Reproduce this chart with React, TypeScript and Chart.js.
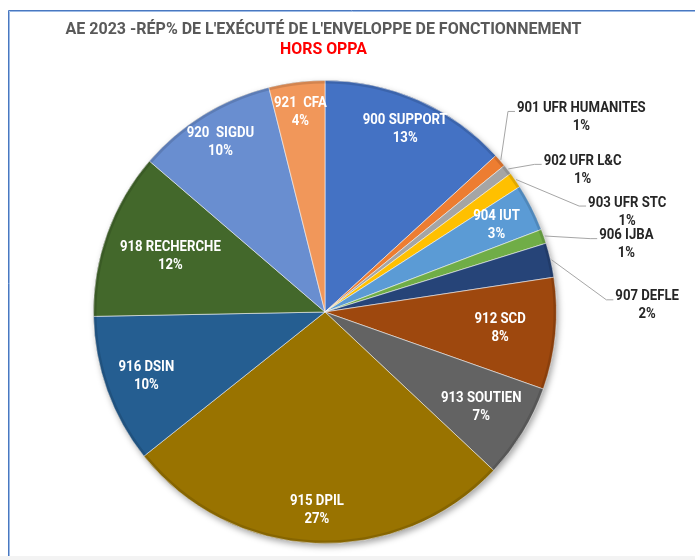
import { useEffect, useRef } from "react";
import { Chart, registerables } from "chart.js";

Chart.register(...registerables);

const TITLE = "AE 2023 -RÉP% DE L'EXÉCUTÉ DE L'ENVELOPPE DE FONCTIONNEMENT";
const SUBTITLE = "HORS OPPA";

const categories = [
  "900 SUPPORT",
  "901 UFR HUMANITES",
  "902 UFR L&C",
  "903 UFR STC",
  "904 IUT",
  "906 IJBA",
  "907 DEFLE",
  "912 SCD",
  "913 SOUTIEN",
  "915 DPIL",
  "916 DSIN",
  "918 RECHERCHE",
  "920  SIGDU",
  "921  CFA",
];

const shares = [13.2, 0.9, 0.7, 1.1, 3.3, 1.0, 2.4, 7.8, 6.6, 27.3, 10.4, 11.6, 9.8, 3.9];

const colors = [
  "#4472C4",
  "#ED7D31",
  "#A5A5A5",
  "#FFC000",
  "#5B9BD5",
  "#70AD47",
  "#264478",
  "#9E480E",
  "#636363",
  "#997300",
  "#255E91",
  "#43682B",
  "#698ED0",
  "#F1975A",
];

// label layout: radial factor for labels inside slices (null => outside label)
const insideRadius: (number | null)[] = [0.86, null, null, null, 0.83, null, null, 0.76, 0.79, 0.86, 0.82, 0.71, 0.86, 0.87];
// outside labels: [angle in degrees clockwise from top, radial factor]
const outsidePolar: Record<number, [number, number]> = {
  1: [52.8, 1.39],
  2: [61.2, 1.27],
  3: [71.7, 1.375],
  5: [77.4, 1.334],
  6: [88.9, 1.392],
};

const LABEL_FONT = "bold 14px Roboto, 'DejaVu Sans', sans-serif";
const TITLE_FONT = "bold 16px Roboto, 'DejaVu Sans', sans-serif";

export default function App() {
  const ref = useRef<HTMLCanvasElement>(null);

  useEffect(() => {
    const canvas = ref.current!;
    const total = shares.reduce((a, b) => a + b, 0);

    const framePlugin = {
      id: "frame",
      beforeDraw(chart: any) {
        const ctx = chart.ctx as CanvasRenderingContext2D;
        ctx.save();
        ctx.fillStyle = "#ffffff";
        ctx.fillRect(0, 0, chart.width, chart.height);
        ctx.fillStyle = "#f3f3f3";
        ctx.fillRect(0, 556, chart.width, chart.height - 556);
        ctx.lineWidth = 1;
        ctx.strokeStyle = "#4a78c0";
        ctx.beginPath();
        ctx.moveTo(8.5, 556);
        ctx.lineTo(8.5, 10.5);
        ctx.lineTo(chart.width, 10.5);
        ctx.stroke();
        ctx.strokeStyle = "#9dbbe6";
        ctx.beginPath();
        ctx.moveTo(9.5, 556);
        ctx.lineTo(9.5, 11.5);
        ctx.lineTo(chart.width, 11.5);
        ctx.stroke();

        // titles
        ctx.textAlign = "center";
        ctx.textBaseline = "middle";
        ctx.font = TITLE_FONT;
        ctx.fillStyle = "#595959";
        ctx.fillText(TITLE, 323.5, 29.5, 529);
        ctx.fillStyle = "#FF0000";
        ctx.fillText(SUBTITLE, 323.5, 49.5, 87);
        ctx.restore();
      },
      beforeDatasetsDraw(chart: any) {
        const meta = chart.getDatasetMeta(0);
        const arc = meta.data[0];
        if (!arc) return;
        const { x, y, outerRadius } = arc.getProps(["x", "y", "outerRadius"], true);
        const ctx = chart.ctx as CanvasRenderingContext2D;
        ctx.save();
        ctx.shadowColor = "rgba(0,0,0,0.35)";
        ctx.shadowBlur = 6;
        ctx.shadowOffsetX = 2;
        ctx.shadowOffsetY = 3;
        ctx.beginPath();
        ctx.arc(x, y, outerRadius, 0, Math.PI * 2);
        ctx.fillStyle = "#888";
        ctx.fill();
        ctx.restore();
      },
      afterDatasetsDraw(chart: any) {
        const ctx = chart.ctx as CanvasRenderingContext2D;
        const meta = chart.getDatasetMeta(0);
        ctx.save();
        // subtle darker rim
        const a0 = meta.data[0].getProps(["x", "y", "outerRadius"], true);
        ctx.strokeStyle = "rgba(0,0,0,0.12)";
        ctx.lineWidth = 3;
        ctx.beginPath();
        ctx.arc(a0.x, a0.y, a0.outerRadius - 1.5, 0, Math.PI * 2);
        ctx.stroke();

        ctx.font = LABEL_FONT;
        ctx.textAlign = "center";
        ctx.textBaseline = "middle";
        const ref = ctx.measureText("900 SUPPORT").width;
        const condense = Math.min(1, 85 / ref);
        const tw = (t: string) => ctx.measureText(t).width * condense;
        const put = (t: string, x: number, y: number) => ctx.fillText(t, x, y, tw(t));

        meta.data.forEach((arc: any, i: number) => {
          const { x, y, startAngle, endAngle, outerRadius } = arc.getProps(
            ["x", "y", "startAngle", "endAngle", "outerRadius"],
            true
          );
          const mid = (startAngle + endAngle) / 2;
          const name = categories[i];
          const pct = Math.round((shares[i] / total) * 100) + "%";
          let cx: number;
          let cy: number;
          const out = outsidePolar[i];
          if (out) {
            const a = (out[0] * Math.PI) / 180 - Math.PI / 2;
            cx = x + Math.cos(a) * outerRadius * out[1];
            cy = y + Math.sin(a) * outerRadius * out[1];
            const left = cx - tw(name) / 2;
            const ly = cy - 9 + 3;
            const sx = x + Math.cos(mid) * (outerRadius + 1);
            const sy = y + Math.sin(mid) * (outerRadius + 1);
            ctx.strokeStyle = "#a6a6a6";
            ctx.lineWidth = 1;
            ctx.beginPath();
            ctx.moveTo(sx, sy);
            ctx.lineTo(left - 9, ly);
            ctx.lineTo(left - 2, ly);
            ctx.stroke();
            ctx.fillStyle = "#262626";
          } else {
            const f = insideRadius[i] ?? 0.8;
            cx = x + Math.cos(mid) * outerRadius * f;
            cy = y + Math.sin(mid) * outerRadius * f;
            ctx.fillStyle = "#ffffff";
          }
          put(name, cx, cy - 9);
          put(pct, cx, cy + 9);
        });
        ctx.restore();
      },
    };

    const chart = new Chart(canvas, {
      type: "pie",
      data: {
        labels: categories,
        datasets: [
          {
            data: shares,
            backgroundColor: colors,
            borderColor: "rgba(255,255,255,0.55)",
            borderWidth: 1,
            hoverOffset: 0,
          },
        ],
      },
      options: {
        responsive: false,
        animation: false,
        events: [],
        layout: { padding: { left: 93, right: 138, top: 80, bottom: 16 } },
        plugins: {
          legend: { display: false },
          tooltip: { enabled: false },
          title: { display: false },
        },
      },
      plugins: [framePlugin],
    });
    return () => chart.destroy();
  }, []);

  return (
    <div style={{ position: "absolute", left: 0, top: 0, width: 695, height: 560 }}>
      <canvas ref={ref} width={695} height={560} style={{ display: "block", width: 695, height: 560 }} />
    </div>
  );
}
